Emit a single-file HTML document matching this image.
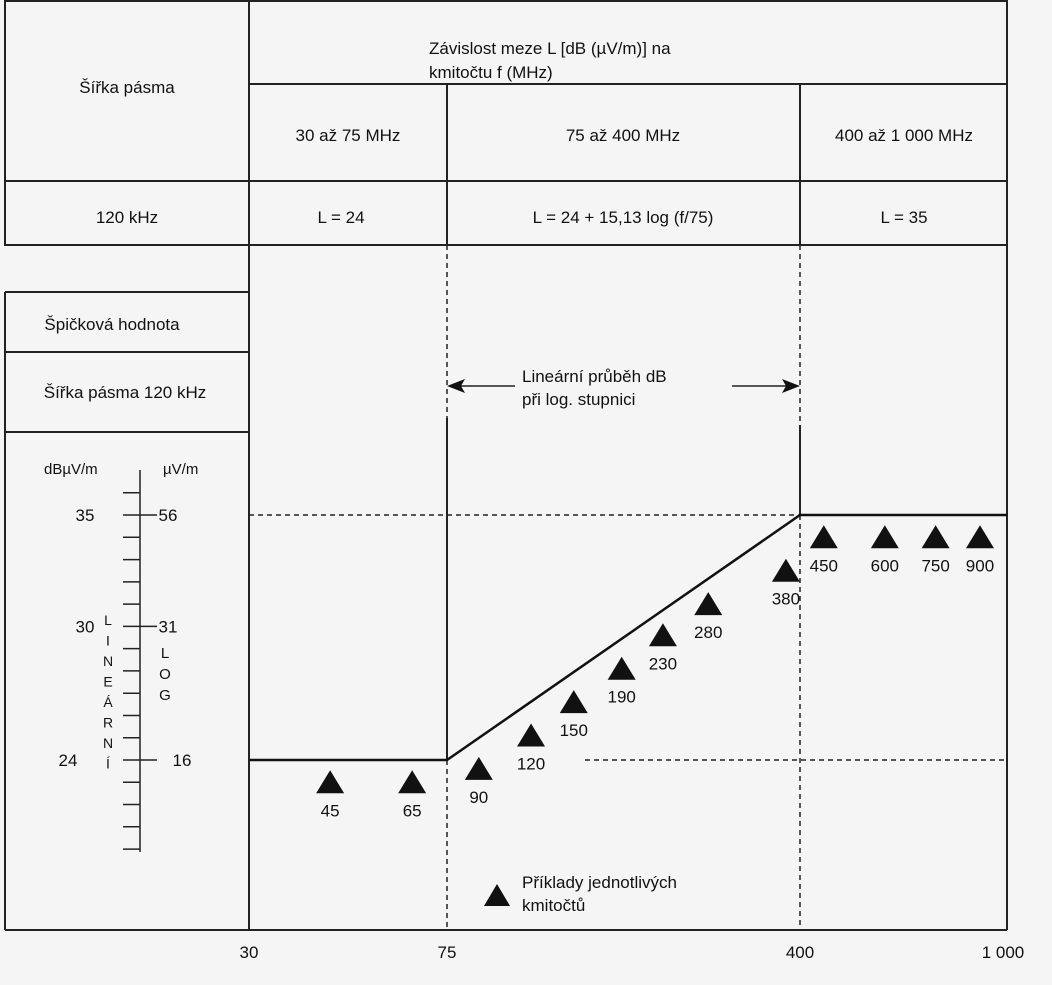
<!DOCTYPE html>
<html><head><meta charset="utf-8"><style>
body{margin:0;background:#f5f5f5}
svg{display:block;font-family:"Liberation Sans",sans-serif;fill:#111}
text{font-size:17px}
</style></head><body>
<svg id="c" width="1052" height="985" viewBox="0 0 1052 985">
<rect width="1052" height="985" fill="#f5f5f5"/>
<g stroke="#222" stroke-width="2" fill="none">
<rect x="5" y="1" width="1002" height="244"/>
<line x1="249" y1="1" x2="249" y2="930"/>
<line x1="249" y1="84" x2="1007" y2="84"/>
<line x1="5" y1="181" x2="1007" y2="181"/>
<line x1="447" y1="84" x2="447" y2="245"/>
<line x1="800" y1="84" x2="800" y2="245"/>
<line x1="5" y1="292" x2="249" y2="292"/>
<line x1="5" y1="352" x2="249" y2="352"/>
<line x1="5" y1="432" x2="249" y2="432"/>
<line x1="5" y1="292" x2="5" y2="930"/>
<line x1="1007" y1="245" x2="1007" y2="930"/>
<line x1="5" y1="930" x2="1007" y2="930"/>
<line x1="447" y1="418" x2="447" y2="760"/>
<line x1="800" y1="425" x2="800" y2="515"/>
</g>
<g stroke="#222" stroke-width="1.5" stroke-dasharray="5,4" fill="none">
<line x1="447" y1="245" x2="447" y2="418"/>
<line x1="447" y1="760" x2="447" y2="930"/>
<line x1="800" y1="245" x2="800" y2="425"/>
<line x1="800" y1="515" x2="800" y2="930"/>
<line x1="249" y1="515" x2="800" y2="515"/>
<line x1="585" y1="760" x2="1007" y2="760"/>
</g>
<g>
<text x="429" y="54">Závislost meze L [dB (µV/m)] na</text>
<text x="429" y="78">kmitočtu f (MHz)</text>
<text x="127" y="93" text-anchor="middle">Šířka pásma</text>
<text x="348" y="141" text-anchor="middle">30 až 75 MHz</text>
<text x="623" y="141" text-anchor="middle">75 až 400 MHz</text>
<text x="904" y="141" text-anchor="middle">400 až 1 000 MHz</text>
<text x="127" y="223" text-anchor="middle">120 kHz</text>
<text x="341" y="223" text-anchor="middle">L = 24</text>
<text x="623" y="223" text-anchor="middle">L = 24 + 15,13 log (f/75)</text>
<text x="904" y="223" text-anchor="middle">L = 35</text>
<text x="112" y="330" text-anchor="middle">Špičková hodnota</text>
<text x="125" y="398" text-anchor="middle">Šířka pásma 120 kHz</text>
</g>
<g>
<text x="522" y="382">Lineární průběh dB</text>
<text x="522" y="405">při log. stupnici</text>
<line x1="460" y1="386" x2="515" y2="386" stroke="#222" stroke-width="1.5"/>
<polygon points="447,386 465,379 461,386 465,393"/>
<line x1="732" y1="386" x2="788" y2="386" stroke="#222" stroke-width="1.5"/>
<polygon points="800,386 782,379 786,386 782,393"/>
</g>
<g>
<polygon points="484,906 510,906 497,884"/>
<text x="522" y="888">Příklady jednotlivých</text>
<text x="522" y="911">kmitočtů</text>
</g>
<g id="scale">
<text x="44" y="474" style="font-size:15px">dBµV/m</text>
<text x="163" y="474" style="font-size:15px">µV/m</text>
<line x1="140" y1="470" x2="140" y2="852" stroke="#222" stroke-width="1.5"/>
</g>
<g id="marks"></g>
<g id="xlab"></g>
</svg>
<script>
const xTicks=[30,75,400,1000];
const xTickLabels=["30","75","400","1 000"];
const limitFreq=[30,75,400,1000];
const limitDb=[24,24,35,35];
const sampleFreq=[45,65,90,120,150,190,230,280,380,450,600,750,900];
const sampleDb=[23,23,23.6,25.1,26.6,28.1,29.6,31,32.5,34,34,34,34];
const scaleDb=[36,35,34,33,32,31,30,29,28,27,26,25,24,23,22,21,20];
const dbLabels=[35,30,24];
const uvLabels=["56","31","16"];
const NS="http://www.w3.org/2000/svg";
const xAnch=[[30,249],[75,447],[400,800],[1000,1007]];
function seg(f){for(let i=0;i<xAnch.length-1;i++){if(f<=xAnch[i+1][0]||i==xAnch.length-2)return i;}}
function x(f){const i=seg(f);const[a,pa]=xAnch[i],[b,pb]=xAnch[i+1];return pa+(pb-pa)*Math.log(f/a)/Math.log(b/a);}
// marker placement: blend of log and linear within each band (as drawn in reference)
function xm(f){const i=seg(f);const[a,pa]=xAnch[i],[b,pb]=xAnch[i+1];const t=0.7*Math.log(f/a)/Math.log(b/a)+0.3*(f-a)/(b-a);return pa+(pb-pa)*t;}
function y(db){return 760-(db-24)*22.27;}
function mk(t,attrs,p){const e=document.createElementNS(NS,t);for(const k in attrs)e.setAttribute(k,attrs[k]);p.appendChild(e);return e;}
const marks=document.getElementById('marks');
const pl=mk('polyline',{points:limitFreq.map((f,i)=>x(f)+','+y(limitDb[i])).join(' '),fill:'none',stroke:'#111','stroke-width':2.5},marks);


sampleFreq.forEach((f,i)=>{
 const cx=xm(f),cy=y(sampleDb[i]);
 const t=mk('polygon',{points:(cx-14)+','+(cy+11)+' '+(cx+14)+','+(cy+11)+' '+cx+','+(cy-12)},marks);
 
 
 const l=mk('text',{x:cx,y:cy+34,'text-anchor':'middle'},marks);l.textContent=f;
 
 
});
const xl=document.getElementById('xlab');
xTicks.forEach((v,i)=>{const t=mk('text',{x:i==3?1003:x(v),y:958,'text-anchor':'middle'},xl);t.textContent=xTickLabels[i];
 
 });
const sc=document.getElementById('scale');
scaleDb.forEach(d=>{const big=dbLabels.includes(d);mk('line',{x1:123,y1:y(d),x2:big?157:140,y2:y(d),stroke:'#222','stroke-width':1.5},sc);});
dbLabels.forEach((d,i)=>{
 const a=mk('text',{x:d==24?68:85,y:y(d)+6,'text-anchor':'middle'},sc);a.textContent=d;
 
 
 const b=mk('text',{x:d==24?182:168,y:y(d)+6,'text-anchor':'middle'},sc);b.textContent=uvLabels[i];
 
 
});
"LINEÁRNÍ".split('').forEach((c,i)=>{const t=mk('text',{x:108,y:625+i*20.5,'text-anchor':'middle',style:'font-size:14px'},sc);t.textContent=c;});
"LOG".split('').forEach((c,i)=>{const t=mk('text',{x:165,y:658+i*21,'text-anchor':'middle',style:'font-size:15px'},sc);t.textContent=c;});
</script>
</body></html>
